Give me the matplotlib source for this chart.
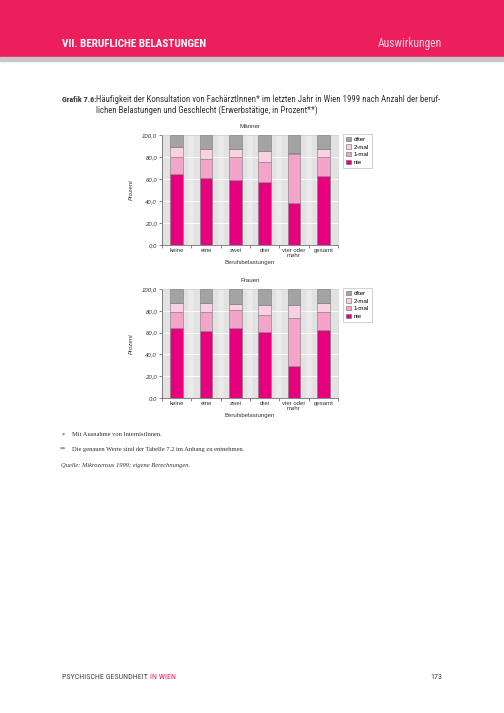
import matplotlib
matplotlib.use("Agg")
import matplotlib.pyplot as plt
import numpy as np
from matplotlib.patches import Patch

# data
categories = ["keine", "eine", "zwei", "drei", "vier oder\nmehr", "gesamt"]
series = ["nie", "1-mal", "2-mal", "öfter"]

maenner_nie   = [64.5, 61.0, 59.0, 57.6, 38.2, 62.4]
maenner_1mal  = [15.2, 17.2, 20.7, 17.6, 44.5, 17.3]
maenner_2mal  = [ 9.1,  9.4,  7.9, 10.0,  0.8,  7.9]
maenner_oefter = [100 - a - b - c for a, b, c in zip(maenner_nie, maenner_1mal, maenner_2mal)]

frauen_nie   = [63.8, 61.3, 63.8, 60.1, 29.1, 62.3]
frauen_1mal  = [15.3, 17.8, 16.9, 16.0, 43.9, 16.8]
frauen_2mal  = [ 8.3,  8.3,  5.5,  9.2, 12.3,  8.3]
frauen_oefter = [100 - a - b - c for a, b, c in zip(frauen_nie, frauen_1mal, frauen_2mal)]

yticks = [0, 20, 40, 60, 80, 100]

colors = {"nie": "#e6007e", "1-mal": "#f4a3c9", "2-mal": "#fad0e3", "öfter": "#a3a3a3"}
pink = "#ec1e5c"
narrow = ["Roboto Condensed", "DejaVu Sans"]

plt.rcParams['font.family'] = ["Liberation Sans", "DejaVu Sans"]

fig = plt.figure(figsize=(5.04, 7.13), dpi=100)

# ---------- page header ----------
fig.patches.append(plt.Rectangle((0, 1 - 57 / 713), 1, 57 / 713, transform=fig.transFigure,
                                 color=pink, zorder=0))
fig.patches.append(plt.Rectangle((0, 1 - 61 / 713), 1, 4 / 713, transform=fig.transFigure,
                                 color="#c8c8c8", zorder=0))
fig.text(62 / 504, 1 - 44 / 713, "VII. BERUFLICHE BELASTUNGEN", color="white", fontsize=8.0,
         fontweight="bold", family=narrow, va="center")
fig.text(442 / 504, 1 - 44 / 713, "Auswirkungen", color="#fbd3e0", fontsize=8.3,
         family=narrow, va="center", ha="right")

# caption
fig.text(62 / 504, 1 - 100 / 713, "Grafik 7.6:", fontsize=5.9, fontweight="bold",
         family=narrow, color="#333333", va="center")
fig.text(95.5 / 504, 1 - 100 / 713,
         "Häufigkeit der Konsultation von FachärztInnen* im letzten Jahr in Wien 1999 nach Anzahl der beruf-",
         fontsize=6.3, family=narrow, color="#333333", va="center")
fig.text(95.5 / 504, 1 - 110 / 713, "lichen Belastungen und Geschlecht (Erwerbstätige, in Prozent**)",
         fontsize=6.3, family=narrow, color="#333333", va="center")


def draw_chart(rect, title, nie, einmal, zweimal, oefter):
    ax = fig.add_axes(rect)
    ax.set_facecolor("#e2e2e2")
    x = np.arange(len(categories))
    # faint lighter stripes at the category boundaries
    for b in np.arange(0.5, len(categories) - 0.5):
        ax.axvline(b, color="#eaeaea", linewidth=4, zorder=0.5)
    bottom = np.zeros(len(categories))
    for name, vals in zip(series, [nie, einmal, zweimal, oefter]):
        ax.bar(x, vals, 0.43, bottom=bottom, color=colors[name], edgecolor="#7a7a7a",
               linewidth=0.4, zorder=3)
        bottom += np.array(vals)
    for t in yticks[1:-1]:
        ax.axhline(t, color="white", linewidth=0.6, zorder=1)
    ax.set_xlim(-0.5, len(categories) - 0.5)
    ax.set_ylim(0, 100)
    ax.set_yticks(yticks)
    ax.set_yticklabels([f"{t:.1f}".replace(".", ",") for t in yticks], fontsize=4.3,
                       style="italic", color="#333333")
    ax.set_xticks(np.arange(-0.5, len(categories)))
    ax.set_xticklabels([])
    ax.set_xticks(x, minor=True)
    ax.set_xticklabels(categories, minor=True, fontsize=4.3, color="#333333", linespacing=0.95)
    ax.tick_params(axis="x", which="minor", length=0, pad=2)
    ax.tick_params(axis="x", which="major", length=2.5, width=0.5, color="#555555")
    ax.tick_params(axis="y", length=2, width=0.5, color="#555555", pad=1.5)
    for s in ["left", "bottom"]:
        ax.spines[s].set_color("#555555")
        ax.spines[s].set_linewidth(0.5)
    for s in ["top", "right"]:
        ax.spines[s].set_color("#cfcfcf")
        ax.spines[s].set_linewidth(0.5)
    ax.set_xlabel("Berufsbelastungen", fontsize=4.3, color="#333333", labelpad=2)
    ax.set_ylabel("Prozent", fontsize=4.3, style="italic", color="#333333", labelpad=6)
    ax.set_title(title, fontsize=4.5, color="#333333", pad=5)
    handles = [Patch(facecolor=colors[n], edgecolor="#666666", linewidth=0.4, label=n)
               for n in reversed(series)]
    leg = ax.legend(handles=handles, loc="upper left", bbox_to_anchor=(1.012, 1.04), fontsize=4.4,
                    frameon=True, fancybox=False, edgecolor="#999999", handlelength=0.7,
                    handleheight=0.7, handletextpad=0.5, borderpad=0.5, labelspacing=0.4)
    leg.get_frame().set_linewidth(0.4)
    return ax


draw_chart([162 / 504, 1 - 245 / 713, 176 / 504, 110 / 713], "Männer",
           maenner_nie, maenner_1mal, maenner_2mal, maenner_oefter)
draw_chart([162 / 504, 1 - 398 / 713, 176 / 504, 109 / 713], "Frauen",
           frauen_nie, frauen_1mal, frauen_2mal, frauen_oefter)

# footnotes
serif = ["Liberation Serif", "DejaVu Serif"]
fig.text(62 / 504, 1 - 435 / 713, "*", fontsize=4.7, family=serif, color="#333333", va="center")
fig.text(72 / 504, 1 - 435 / 713, "Mit Ausnahme von InternistInnen.", fontsize=4.7, family=serif,
         color="#333333", va="center")
fig.text(60 / 504, 1 - 449 / 713, "**", fontsize=4.7, family=serif, color="#333333", va="center")
fig.text(72 / 504, 1 - 449 / 713, "Die genauen Werte sind der Tabelle 7.2 im Anhang zu entnehmen.",
         fontsize=4.7, family=serif, color="#333333", va="center")
fig.text(61 / 504, 1 - 466 / 713, "Quelle: Mikrozensus 1999; eigene Berechnungen.", fontsize=4.7,
         family=serif, style="italic", color="#333333", va="center")

# footer
t = fig.text(62 / 504, 1 - 677 / 713, "PSYCHISCHE GESUNDHEIT ", fontsize=5.75, family=narrow,
             color="#444444", va="center")
fig.canvas.draw()
bb = t.get_window_extent()
fig.text(bb.x1 / fig.bbox.width, 1 - 677 / 713, "IN WIEN", fontsize=5.75, family=narrow,
         color=pink, va="center")
fig.text(442 / 504, 1 - 677 / 713, "173", fontsize=5.75, family=narrow, color="#444444",
         va="center", ha="right")

fig.savefig("out.png", dpi=100)
